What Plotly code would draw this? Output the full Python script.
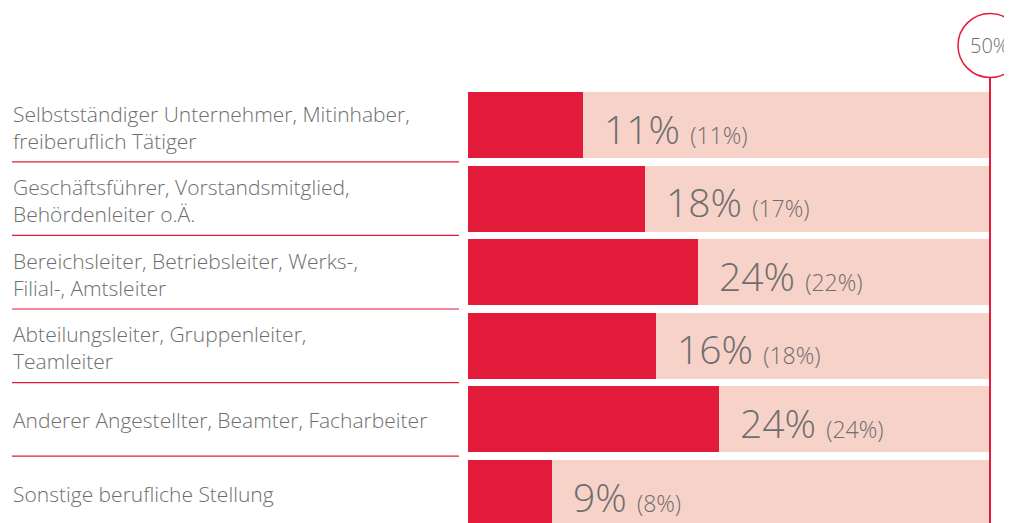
import plotly.graph_objects as go

categories = [
    "Selbstständiger Unternehmer, Mitinhaber,<br>freiberuflich Tätiger",
    "Geschäftsführer, Vorstandsmitglied,<br>Behördenleiter o.Ä.",
    "Bereichsleiter, Betriebsleiter, Werks-,<br>Filial-, Amtsleiter",
    "Abteilungsleiter, Gruppenleiter,<br>Teamleiter",
    "Anderer Angestellter, Beamter, Facharbeiter",
    "Sonstige berufliche Stellung",
]
values_current = [11, 18, 24, 16, 24, 9]
values_previous = [11, 17, 22, 18, 24, 8]
scale_max = 50
scale_label = "50%"

RED = "#E31B3B"
PALE = "#F7D2C8"
GRAY = "#6E6E6E"
FONT = "Open Sans"

W, H = 1012, 523
OFF = 8  # browser default body margin


def fx(p):
    return p - OFF


px_per_unit = (990 - 468) / scale_max
x_range = [-fx(468) / px_per_unit, scale_max + (W - fx(990)) / px_per_unit]
pitch = 73.6
c0 = fx(125)
y_top = -c0 / pitch
y_bot = (H - c0) / pitch
bar_w = 66 / pitch

idx = list(range(len(categories)))

fig = go.Figure()
fig.add_trace(go.Bar(
    y=idx, x=[scale_max] * len(idx), orientation="h",
    marker=dict(color=PALE, line=dict(width=0)), width=bar_w,
    hoverinfo="skip", showlegend=False,
))
fig.add_trace(go.Bar(
    y=idx, x=values_previous, orientation="h",
    marker=dict(color=RED, line=dict(width=0)), width=bar_w,
    hoverinfo="skip", showlegend=False,
))

annotations = []
shapes = []
for i, (cat, cur, prev) in enumerate(zip(categories, values_current, values_previous)):
    n = len(cat.split("<br>"))
    annotations.append(dict(
        x=fx(11) / W, xref="paper", y=i, yref="y",
        yshift=-2 if n > 1 else -1,
        text=cat,
        xanchor="left", yanchor="middle", align="left", showarrow=False,
        font=dict(family=FONT, size=21, color=GRAY, weight=300),
    ))
    annotations.append(dict(
        x=prev, xref="x", y=i, yref="y", xshift=19, yshift=-3,
        text=f"{cur}% <span style='font-size:23px'>({prev}%)</span>",
        xanchor="left", yanchor="middle", showarrow=False,
        font=dict(family=FONT, size=39, color=GRAY, weight=300),
    ))
    if i < len(categories) - 1:
        shapes.append(dict(
            type="line", xref="paper", yref="y",
            x0=fx(12) / W, x1=fx(459) / W, y0=i + 0.5, y1=i + 0.5,
            line=dict(color=RED, width=1.2),
        ))

circ_y = 1 - fx(45.5) / H
shapes.append(dict(
    type="circle", xref="x", yref="paper",
    xsizemode="pixel", ysizemode="pixel",
    xanchor=scale_max, yanchor=circ_y,
    x0=-32, x1=32, y0=-32, y1=32,
    line=dict(color=RED, width=1.5), fillcolor="rgba(0,0,0,0)",
))
shapes.append(dict(
    type="line", xref="x", yref="paper",
    x0=scale_max, x1=scale_max, y0=0, y1=1 - fx(77.5) / H,
    line=dict(color=RED, width=2),
))
annotations.append(dict(
    x=scale_max, xref="x", y=circ_y, yref="paper", xshift=-1,
    text=scale_label, showarrow=False, xanchor="center", yanchor="middle",
    font=dict(family=FONT, size=20, color=GRAY, weight=300),
))

fig.update_layout(
    width=W, height=H,
    margin=dict(l=0, r=0, t=0, b=0),
    paper_bgcolor="white", plot_bgcolor="white",
    barmode="overlay", bargap=0,
    xaxis=dict(range=x_range, visible=False, fixedrange=True),
    yaxis=dict(range=[y_bot, y_top], visible=False, fixedrange=True),
    annotations=annotations, shapes=shapes,
    showlegend=False,
)
fig.write_html("out.html")
